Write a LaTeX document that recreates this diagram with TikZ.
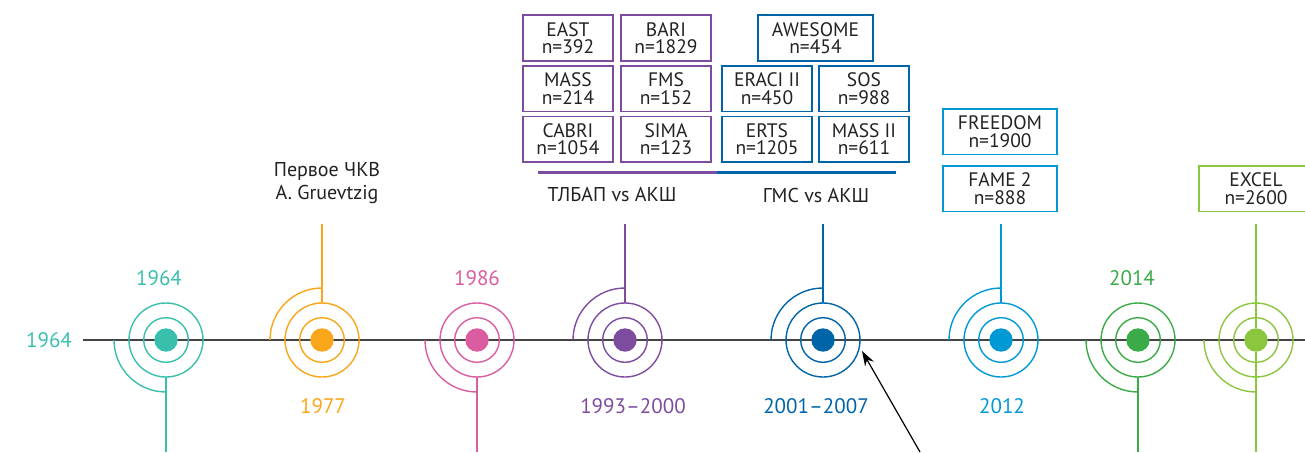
\documentclass[tikz,border=0pt]{standalone}
\usepackage{fontspec}
\setmainfont{PT Sans}
\usetikzlibrary{arrows.meta}
\definecolor{cTeal}{HTML}{3BBFAD}
\definecolor{cOrange}{HTML}{F9A61A}
\definecolor{cPink}{HTML}{D95DA0}
\definecolor{cPurple}{HTML}{7E4C9E}
\definecolor{cBlue}{HTML}{0065A8}
\definecolor{cLBlue}{HTML}{0099D5}
\definecolor{cGreen}{HTML}{3BAA48}
\definecolor{cLGreen}{HTML}{8CC63F}
\definecolor{cAxis}{HTML}{444444}
\definecolor{cText}{HTML}{222222}
\tikzset{
  ring/.style={line width=1.4},
  dotnode/.style={circle,inner sep=0pt,minimum size=23.4,draw=none},
  yearlbl/.style={font=\fontsize{21}{23}\selectfont},
  capt/.style={font=\fontsize{20}{23}\selectfont,text=cText,align=center},
  trial/.style={draw,line width=1.5,minimum width=90,minimum height=45.5,inner sep=0pt,align=center,
    text=cText,font=\fontsize{19.5}{17.5}\selectfont},
}
\begin{document}
\begin{tikzpicture}[x=1pt,y=-1pt]
\useasboundingbox (0,0) rectangle (1305,452);
\clip (0,0) rectangle (1305,452);
% axis
\coordinate (axL) at (83,340);
\coordinate (axR) at (1305,340);
\draw[cAxis,line width=2.4] (axL) -- (axR);
% milestones
\foreach \cx/\col/\nm/\dir in {166/cTeal/m1/1,322/cOrange/m2/-1,477/cPink/m3/1,625/cPurple/m4/-1,
   823/cBlue/m5/-1,1001/cLBlue/m6/-1,1138/cGreen/m7/1,1256/cLGreen/m8/1}{
  \node[dotnode,fill=\col] (\nm) at (\cx,340) {};
  \draw[ring,draw=\col] (\nm) circle[radius=22.3];
  \draw[ring,draw=\col] (\nm) circle[radius=37];
  \draw[ring,draw=\col] (\cx-52,340) arc[start angle=180,end angle={180-90*\dir},radius=52];
  \ifnum\dir=1
    \draw[ring,draw=\col] (\cx,377) -- (\cx,452);
  \else
    \draw[ring,draw=\col] (\cx,303) -- (\cx,224);
  \fi
}
\coordinate (exTop) at (1256,224);
\draw[ring,draw=cLGreen] (exTop) -- (m8);
% year labels
\node[yearlbl,text=cTeal] (y0) at (49,340) {1964};
\node[yearlbl,text=cTeal] (y1) at (159,278) {1964};
\node[yearlbl,text=cOrange] (y2) at (323,406) {1977};
\node[yearlbl,text=cPink] (y3) at (477,278) {1986};
\node[yearlbl,text=cPurple] (y4) at (633,406) {1993–2000};
\node[yearlbl,text=cBlue] (y5) at (816,406) {2001–2007};
\node[yearlbl,text=cLBlue] (y6) at (1002,406) {2012};
\node[yearlbl,text=cGreen] (y7) at (1132,278) {2014};
% caption 1977
\node[capt] (pck) at (327,183) {Первое ЧКВ\\A. Gruevtzig};
% trial boxes purple
\node[trial,draw=cPurple] (east) at (568,38) {EAST\\n=392};
\node[trial,draw=cPurple] (bari) at (666,38) {BARI\\n=1829};
\node[trial,draw=cPurple] (mass) at (568,88.5) {MASS\\n=214};
\node[trial,draw=cPurple] (fms) at (666,88.5) {FMS\\n=152};
\node[trial,draw=cPurple] (cabri) at (568,139) {CABRI\\n=1054};
\node[trial,draw=cPurple] (sima) at (666,139) {SIMA\\n=123};
% trial boxes blue
\node[trial,draw=cBlue,minimum width=115] (awe) at (815.5,38) {AWESOME\\n=454};
\node[trial,draw=cBlue] (eraci) at (767,88.5) {ERACI II\\n=450};
\node[trial,draw=cBlue] (sos) at (864,88.5) {SOS\\n=988};
\node[trial,draw=cBlue] (erts) at (767,139) {ERTS\\n=1205};
\node[trial,draw=cBlue] (mass2) at (864,139) {MASS II\\n=611};
% underlines
\coordinate (ulA) at (538,172);
\coordinate (ulM) at (717,172);
\coordinate (ulB) at (896,172);
\draw[cPurple,line width=3] (ulA) -- (ulM);
\draw[cBlue,line width=3] (ulM) -- (ulB);
\node[capt] (tlbap) at (612,195) {ТЛБАП vs АКШ};
\node[capt] (gms) at (816,195) {ГМС vs АКШ};
% later trials
\node[trial,draw=cLBlue,minimum width=114] (freedom) at (1000,131.5) {FREEDOM\\n=1900};
\node[trial,draw=cLBlue,minimum width=114] (fame) at (1000,188.5) {FAME 2\\n=888};
\node[trial,draw=cLGreen,minimum width=114] (excel) at (1256,188.5) {EXCEL\\n=2600};
\coordinate (exBot) at (1256,452);
\draw[ring,draw=cLGreen] (m8) -- (exBot);
% pointer arrow
\coordinate (arrT) at (920,452);
\coordinate (arrH) at (862,351);
\draw[black,line width=1.2,-{Stealth[length=15,width=10]}] (arrT) -- (arrH);
\end{tikzpicture}
\end{document}
